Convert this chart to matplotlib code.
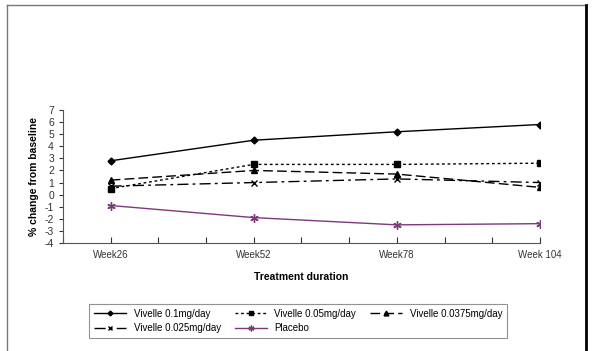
import matplotlib.pyplot as plt
from matplotlib.lines import Line2D

plt.rcParams['font.family'] = ['Liberation Sans', 'DejaVu Sans']
plt.rcParams['axes.unicode_minus'] = False

# Data
weeks = [26, 52, 78, 104]
week_labels = ['Week26', 'Week52', 'Week78', 'Week 104']
vivelle_01 = [2.8, 4.5, 5.2, 5.8]
vivelle_005 = [0.5, 2.5, 2.5, 2.6]
vivelle_00375 = [1.2, 2.0, 1.7, 0.6]
vivelle_0025 = [0.7, 1.0, 1.3, 1.0]
placebo = [-0.9, -1.9, -2.5, -2.4]

fig = plt.figure(figsize=(5.93, 3.51), dpi=100)
ax = fig.add_axes([63/593, 108/351, (540-63)/593, (243-110)/351])

h1, = ax.plot(weeks, vivelle_01, color='black', lw=1, ls='-', marker='D', ms=3.5,
              label='Vivelle 0.1mg/day')
h2, = ax.plot(weeks, vivelle_005, color='black', lw=1, ls=(0, (2, 2)), marker='s', ms=5,
              label='Vivelle 0.05mg/day')
h3, = ax.plot(weeks, vivelle_00375, color='black', lw=1, ls=(0, (7, 3)), marker='^', ms=5,
              label='Vivelle 0.0375mg/day')
h4, = ax.plot(weeks, vivelle_0025, color='black', lw=1, ls=(0, (8, 3, 2, 3)), marker='x', ms=5,
              label='Vivelle 0.025mg/day')
h5, = ax.plot(weeks, placebo, color='#7b3a7b', lw=1, ls='-', marker=(6, 2, 0), ms=6,
              label='Placebo')

step = 26 / 3
ax.set_xlim(weeks[0] - step, weeks[-1])
ax.set_ylim(-4, 7)
ax.set_yticks(range(-4, 8))
ax.set_xticks([weeks[0] - step + i * step for i in range(11)])
ax.set_xticklabels(['' if i % 3 != 1 else week_labels[i // 3] for i in range(11)])
ax.tick_params(axis='x', direction='in', length=4, labelsize=7, colors='#333333', pad=5)
ax.tick_params(axis='y', direction='out', length=3, labelsize=7.5, colors='#333333')

for s in ['top', 'right']:
    ax.spines[s].set_visible(False)
for s in ['left', 'bottom']:
    ax.spines[s].set_color('#555555')
    ax.spines[s].set_linewidth(0.8)

ax.set_xlabel('Treatment duration', fontsize=7.5, fontweight='bold', labelpad=9)
ax.set_ylabel('% change from baseline', fontsize=7.5, fontweight='bold', labelpad=4)

order = [h1, h4, h2, h5, h3]
leg = fig.legend(order, [h.get_label() for h in order],
                 ncol=3, loc='center', bbox_to_anchor=(298/593, 30/351),
                 fontsize=7, frameon=True, fancybox=False, handlelength=3.3,
                 markerscale=0.7, columnspacing=1.4, borderpad=0.5, labelspacing=0.5)
leg.get_frame().set_edgecolor('#777777')
leg.get_frame().set_linewidth(0.8)

# surrounding frame lines
fig.add_artist(Line2D([7/593, 586/593], [1 - 5/351, 1 - 5/351], color='#777777', lw=1))
fig.add_artist(Line2D([7/593, 7/593], [0, 1 - 5/351], color='#777777', lw=1))
fig.add_artist(Line2D([586/593, 586/593], [0, 1 - 5/351], color='black', lw=2))

fig.savefig('out.png', dpi=100)
